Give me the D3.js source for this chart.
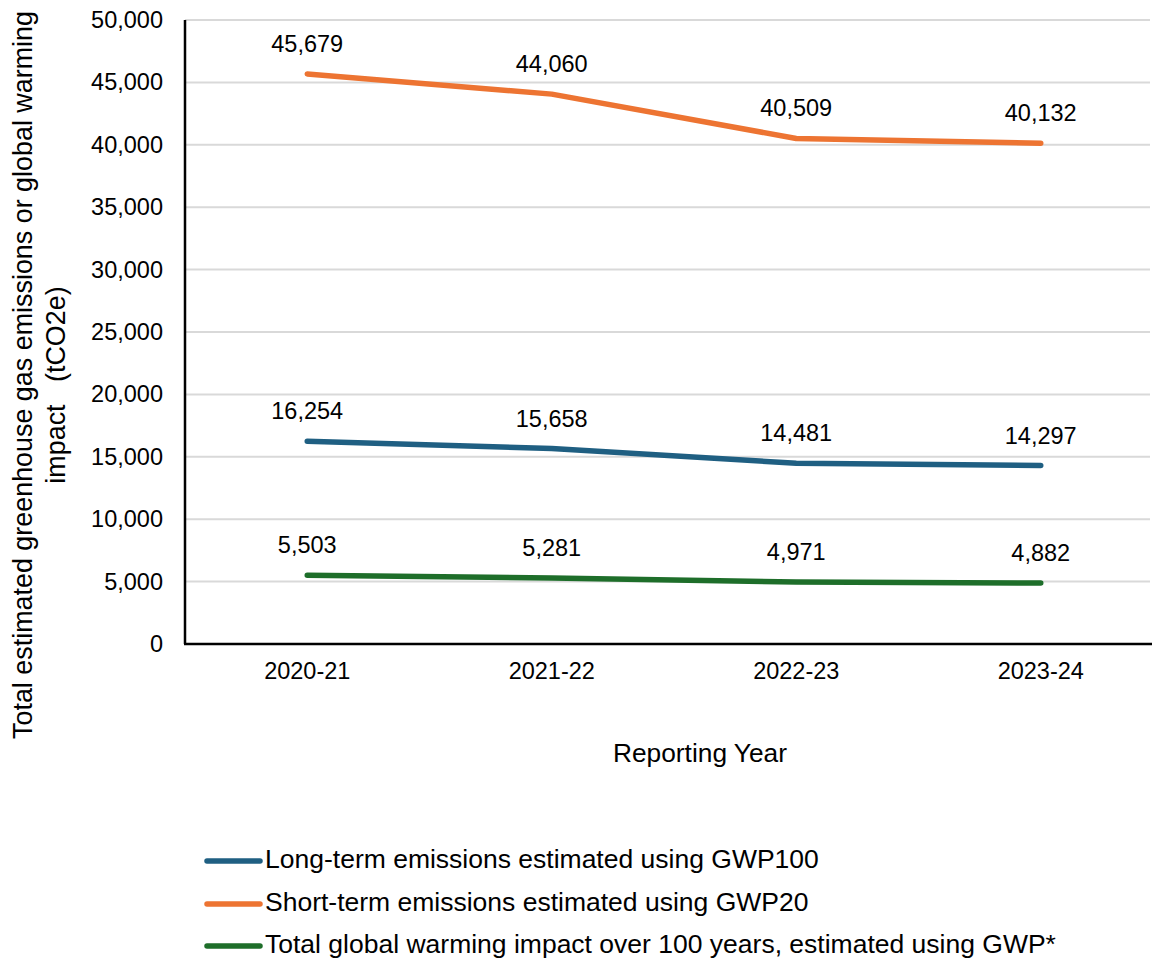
<!DOCTYPE html>
<html><head><meta charset="utf-8">
<script src="https://cdn.jsdelivr.net/npm/d3@7/dist/d3.min.js"></script>
<style>
html,body{margin:0;padding:0;background:#fff;}
svg{display:block;font-family:"Liberation Sans",Arial,sans-serif;}
</style></head>
<body>
<script>
const categories = ["2020-21","2021-22","2022-23","2023-24"];
const shortTerm = [45679, 44060, 40509, 40132];
const longTerm = [16254, 15658, 14481, 14297];
const totalImpact = [5503, 5281, 4971, 4882];
const seriesNames = [
  "Long-term emissions estimated using GWP100",
  "Short-term emissions estimated using GWP20",
  "Total global warming impact over 100 years, estimated using GWP*"
];
const yTicks = [0,5000,10000,15000,20000,25000,30000,35000,40000,45000,50000];

const series = [
  {name: seriesNames[0], values: longTerm, color: "#1f5f82"},
  {name: seriesNames[1], values: shortTerm, color: "#ed7432"},
  {name: seriesNames[2], values: totalImpact, color: "#1e6e2a"}
];

const W = 1152, H = 960;
const svg = d3.select("body").append("svg").attr("width", W).attr("height", H);

const pLeft = 185, pTop = 20, pBottom = 644, pRight = 1163;
const x = d3.scaleBand().domain(categories).range([pLeft, pRight]);
const y = d3.scaleLinear().domain([0, 50000]).range([pBottom, pTop]);
const fmt = d3.format(",");

// gridlines
svg.append("g").selectAll("line").data(yTicks.filter(d => d > 0)).join("line")
  .attr("x1", pLeft).attr("x2", 1150)
  .attr("y1", d => y(d)).attr("y2", d => y(d))
  .attr("stroke", "#d9d9d9").attr("stroke-width", 2);

// y axis labels
const yAxis = svg.append("g").attr("transform", `translate(${pLeft},0)`)
  .call(d3.axisLeft(y).tickValues(yTicks).tickFormat(fmt).tickSize(0).tickPadding(22));
yAxis.select(".domain").remove();
yAxis.selectAll("text").attr("font-size", 23.5).attr("fill", "#000")
  .attr("font-family", "Liberation Sans, Arial, sans-serif");

// x axis
const xAxis = svg.append("g").attr("transform", `translate(0,${pBottom})`)
  .call(d3.axisBottom(x).tickSize(0).tickPadding(18));
xAxis.select(".domain").remove();
xAxis.selectAll("text").attr("font-size", 23.5).attr("fill", "#000")
  .attr("font-family", "Liberation Sans, Arial, sans-serif");

// axis lines
svg.append("line").attr("x1", pLeft).attr("x2", pLeft).attr("y1", pTop).attr("y2", pBottom)
  .attr("stroke", "#000").attr("stroke-width", 2.5);
svg.append("line").attr("x1", pLeft - 1).attr("x2", 1152).attr("y1", pBottom).attr("y2", pBottom)
  .attr("stroke", "#000").attr("stroke-width", 2.5);

// lines
const line = d3.line()
  .x((d, i) => x(categories[i]) + x.bandwidth() / 2)
  .y(d => y(d));
series.forEach(s => {
  svg.append("path").datum(s.values)
    .attr("d", line).attr("fill", "none")
    .attr("stroke", s.color).attr("stroke-width", 5.5)
    .attr("stroke-linecap", "round").attr("stroke-linejoin", "round");
  svg.append("g").selectAll("text").data(s.values).join("text")
    .attr("x", (d, i) => x(categories[i]) + x.bandwidth() / 2)
    .attr("y", d => y(d) - 22)
    .attr("text-anchor", "middle")
    .attr("font-size", 23.5).attr("fill", "#000")
    .text(d => fmt(d));
});

// axis titles
svg.append("text").attr("x", 700).attr("y", 762).attr("text-anchor", "middle")
  .attr("font-size", 26.3).attr("fill", "#000").text("Reporting Year");

const yt = svg.append("text").attr("transform", "translate(32,375) rotate(-90)")
  .attr("text-anchor", "middle").attr("font-size", 26.9).attr("fill", "#000");
yt.append("tspan").attr("x", 0).attr("y", 0).text("Total estimated greenhouse gas emissions or global warming");
yt.append("tspan").attr("x", -10).attr("y", 33).style("white-space", "pre").text("impact   (tCO2e)");

// legend
const legendY = [861, 904, 946];
series.forEach((s, i) => {
  svg.append("line").attr("x1", 207).attr("x2", 260)
    .attr("y1", legendY[i]).attr("y2", legendY[i])
    .attr("stroke", s.color).attr("stroke-width", 5.5).attr("stroke-linecap", "round");
  svg.append("text").attr("x", 265).attr("y", legendY[i] + 7)
    .attr("font-size", 26.5).attr("fill", "#000").text(s.name);
});
</script>
</body></html>
